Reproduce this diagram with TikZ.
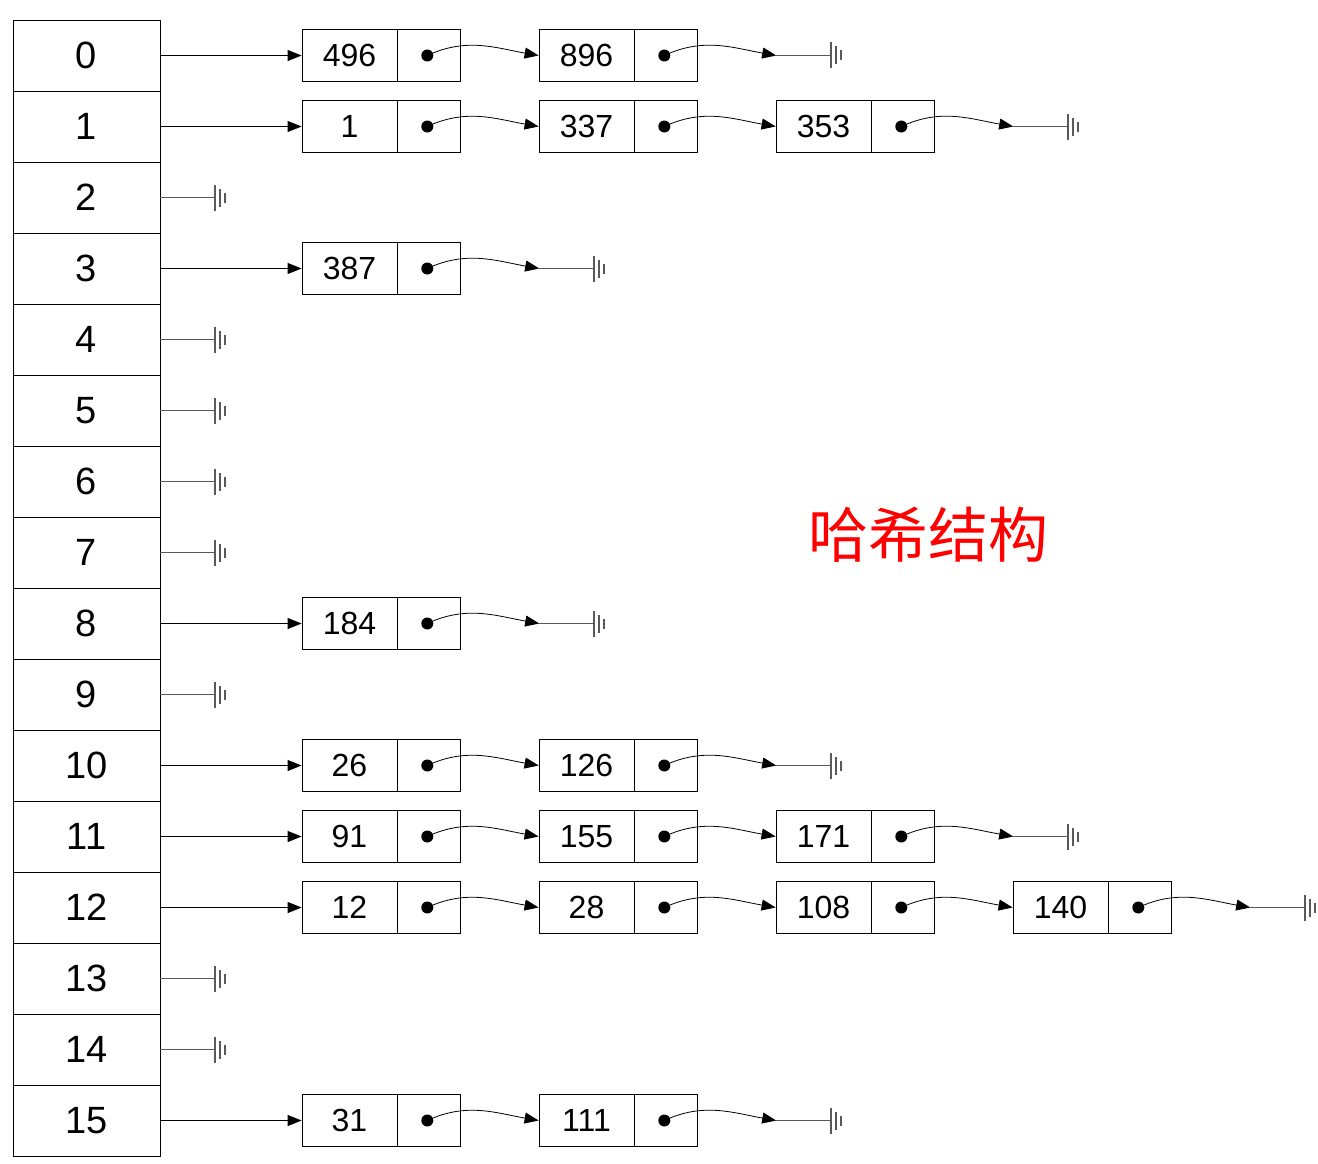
\documentclass[tikz,border=0pt]{standalone}
\usepackage{fontspec}
\setmainfont{Liberation Sans}
\newfontfamily\cjk{Noto Sans CJK SC}
\usetikzlibrary{positioning,arrows.meta,calc}

\tikzset{
  cell/.style={draw, thick, minimum width=147pt, minimum height=71pt, inner sep=0pt, font=\fontsize{38}{40}\selectfont},
  val/.style={draw, thick, minimum width=95pt, minimum height=52pt, inner sep=0pt, font=\fontsize{32}{34}\selectfont},
  ptr/.style={draw, thick, minimum width=63pt, minimum height=52pt, inner sep=0pt},
  link/.style={thick, -{Triangle[length=14pt,width=11pt]}},
  gnd/.pic={
    \draw[gray!70!black, thick] (-55,0) -- (0,0);
    \draw[gray!70!black, line width=2pt] (0,-13) -- (0,13);
    \draw[gray!70!black, line width=2pt] (5,-9) -- (5,9);
    \draw[gray!70!black, line width=2pt] (10,-5) -- (10,5);
  }
}

\begin{document}
\begin{tikzpicture}[x=1pt, y=-1pt]
  \useasboundingbox (0,0) rectangle (1318,1164);

  % bucket table
  \foreach \k in {0,...,15} {
    \node[cell] (r\k) at (86.5, 55.5+71*\k) {\k};
  }
  \foreach \k in {2,4,5,6,7,9,13,14} {
    \pic at ($(r\k.east)+(55,0)$) {gnd};
  }

  % chains
  \foreach \k/\vals in {0/{496,896}, 1/{1,337,353}, 3/{387}, 8/{184},
                        10/{26,126}, 11/{91,155,171}, 12/{12,28,108,140}, 15/{31,111}} {
    \foreach \v [count=\j] in \vals {
      \node[val] (v\k-\j) at (349.5+237*\j-237, 55.5+71*\k) {\v};
      \node[ptr, right=0pt of v\k-\j] (p\k-\j) {};
      \fill (p\k-\j.center) ++(-2,0) circle (6pt) coordinate (d\k-\j);
      \ifnum\j=1
        \draw[link] (r\k.east) -- (v\k-1.west);
      \else
        \pgfmathtruncatemacro\i{\j-1}
        \draw[link] (d\k-\i) to[out=25, in=170] (v\k-\j.west);
      \fi
      \xdef\last{\j}
    }
    \coordinate (e\k) at ($(p\k-\last.east)+(78,0)$);
    \draw[link] (d\k-\last) to[out=25, in=170] (e\k);
    \pic at ($(e\k)+(55,0)$) {gnd};
  }

  \node[text=red, font=\cjk\fontsize{60}{62}\selectfont] (title) at (928, 535) {哈希结构};
\end{tikzpicture}
\end{document}
